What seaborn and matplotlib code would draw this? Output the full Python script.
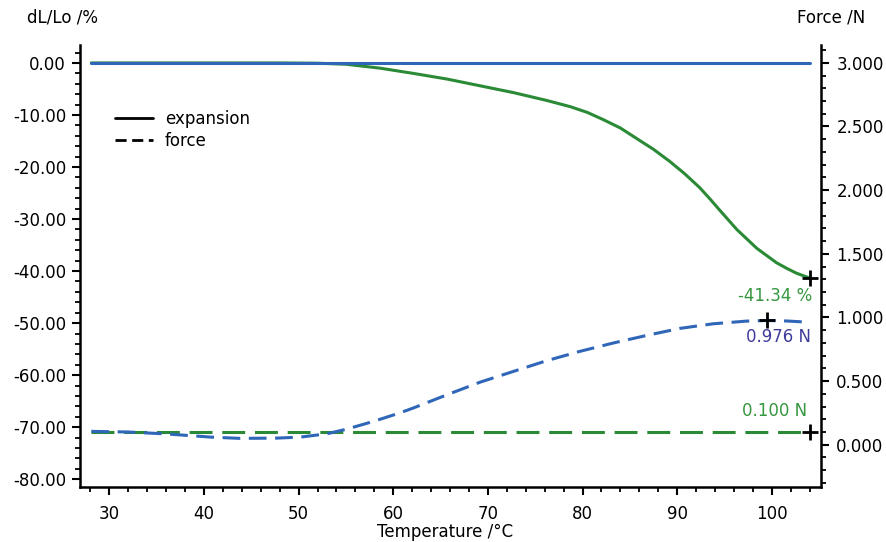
import numpy as np
import pandas as pd
import matplotlib
matplotlib.use('Agg')
import matplotlib.pyplot as plt
from matplotlib.lines import Line2D
from matplotlib.ticker import MultipleLocator, FormatStrFormatter
import seaborn as sns

# expansion (green), dL/Lo in %
temp_exp = [28.1, 40, 48, 52, 55, 58.6, 62.1, 65.7, 69.2, 72.7, 76.2, 78.7, 80.5, 82.2, 84.0,
            85.7, 87.5, 89.2, 90.8, 92.4, 93.5, 94.5, 96.3, 98.4, 100.5, 101.6, 102.6, 104.0]
dl_exp = [0.0, 0.0, 0.0, -0.05, -0.25, -1.0, -2.0, -3.1, -4.4, -5.7, -7.2, -8.4, -9.5, -10.9, -12.5,
          -14.5, -16.6, -18.9, -21.3, -24.0, -26.2, -28.3, -32.0, -35.6, -38.4, -39.5, -40.4, -41.34]

# reference expansion (blue), flat at zero
temp_ref = [28.1, 104.0]
dl_ref = [0.0, 0.0]

# force (blue dashed), N
temp_force = [28.1, 32, 36, 40.7, 43.8, 47.7, 50.2, 53.0, 55.1, 57.9, 60.7, 62.1, 65.7, 69.2, 72.7,
              76.2, 79.7, 83.3, 86.8, 90.3, 93.8, 97.3, 99.5, 101.6, 104.0]
force = [0.105, 0.10, 0.085, 0.06, 0.05, 0.052, 0.06, 0.086, 0.123, 0.183, 0.250, 0.288, 0.393, 0.492, 0.576,
         0.66, 0.733, 0.80, 0.859, 0.914, 0.950, 0.971, 0.976, 0.972, 0.962]

# force setpoint (green dashed)
temp_set = [28.1, 104.0]
force_set = [0.100, 0.100]

max_force_T = 99.5
max_force = 0.976

green = '#2a8a36'
blue = '#2f66b8'
txt_green = '#35973f'
txt_purple = '#403c9c'

df_exp = pd.DataFrame({'T': temp_exp, 'dL': dl_exp})
df_ref = pd.DataFrame({'T': temp_ref, 'dL': dl_ref})
df_force = pd.DataFrame({'T': temp_force, 'F': force})
df_set = pd.DataFrame({'T': temp_set, 'F': force_set})

sns.set_theme(style='ticks')
plt.rcParams['font.family'] = ['DejaVu Sans']
plt.rcParams['font.size'] = 12
plt.rcParams['text.color'] = 'black'
plt.rcParams['xtick.color'] = 'black'
plt.rcParams['ytick.color'] = 'black'
plt.rcParams['lines.solid_joinstyle'] = 'round'
plt.rcParams['lines.dash_joinstyle'] = 'round'

fig = plt.figure(figsize=(8.86, 5.42), dpi=100)
ax = fig.add_axes([80 / 886, 1 - 487 / 542, 741 / 886, 442 / 542])
ax2 = ax.twinx()

sns.lineplot(data=df_exp, x='T', y='dL', ax=ax, color=green, lw=2.2)
sns.lineplot(data=df_ref, x='T', y='dL', ax=ax, color=blue, lw=2.2)
sns.lineplot(data=df_set, x='T', y='F', ax=ax2, color=green, lw=2.2)
ax2.lines[-1].set_dashes((7.5, 3.2))
sns.lineplot(data=df_force, x='T', y='F', ax=ax2, color=blue, lw=2.2)
ax2.lines[-1].set_dashes((5.8, 2.8))

ax.set_xlim(26.9, 105.2)
ax.set_ylim(-81.5, 3.45)
ax2.set_ylim(-0.332, 3.14)

# end markers
ax.plot([temp_exp[-1]], [dl_exp[-1]], marker='+', ms=11, mew=2, color='black', ls='none')
ax2.plot([max_force_T], [max_force], marker='+', ms=11, mew=2, color='black', ls='none')
ax2.plot([temp_set[-1]], [force_set[-1]], marker='+', ms=11, mew=2, color='black', ls='none')

ax.annotate(f'{dl_exp[-1]:.2f} %', (temp_exp[-1], dl_exp[-1]), xytext=(3, -18),
            textcoords='offset pixels', ha='right', va='center', color=txt_green, fontsize=12)
ax2.annotate(f'{max_force:.3f} N', (max_force_T, max_force), xytext=(44, -17),
             textcoords='offset pixels', ha='right', va='center', color=txt_purple, fontsize=12)
ax2.annotate(f'{force_set[-1]:.3f} N', (temp_set[-1], force_set[-1]), xytext=(-3, 21),
             textcoords='offset pixels', ha='right', va='center', color=txt_green, fontsize=12)

# ticks
ax.xaxis.set_major_locator(MultipleLocator(10))
ax.xaxis.set_minor_locator(MultipleLocator(2))
ax.yaxis.set_major_locator(MultipleLocator(10))
ax.yaxis.set_minor_locator(MultipleLocator(2))
ax.yaxis.set_major_formatter(FormatStrFormatter('%.2f'))
ax2.set_yticks([0, 0.5, 1.0, 1.5, 2.0, 2.5, 3.0])
ax2.yaxis.set_minor_locator(MultipleLocator(0.1))
ax2.yaxis.set_major_formatter(FormatStrFormatter('%.3f'))

for a in (ax, ax2):
    a.tick_params(which='major', length=6, width=1.5, direction='out', labelsize=12, colors='black')
    a.tick_params(which='minor', length=3.5, width=1.3, direction='out')
    a.set_xlabel('')
    a.set_ylabel('')
    for s in a.spines.values():
        s.set_linewidth(1.8)
        s.set_color('black')
    a.spines['top'].set_visible(False)
ax.spines['right'].set_visible(False)
ax2.spines['left'].set_visible(False)
ax2.spines['bottom'].set_visible(False)
ax.tick_params(axis='y', pad=4)
ax2.tick_params(axis='y', pad=5)
ax.tick_params(axis='x', pad=7)

handles = [Line2D([], [], color='black', lw=2, ls='-'),
           Line2D([], [], color='black', lw=2, dashes=(4, 2))]
ax.legend(handles, ['expansion', 'force'], loc='upper left', bbox_to_anchor=(0.027, 0.888),
          frameon=False, fontsize=12, handlelength=2.3, handletextpad=0.7, labelspacing=0.25)

fig.text(27 / 886, 1 - 18 / 542, 'dL/Lo /%', ha='left', va='center', fontsize=12)
fig.text(865 / 886, 1 - 18 / 542, 'Force /N', ha='right', va='center', fontsize=12)
fig.text(445 / 886, 1 - 532 / 542, 'Temperature /°C', ha='center', va='center', fontsize=12)

fig.savefig('out.png', dpi=100)
